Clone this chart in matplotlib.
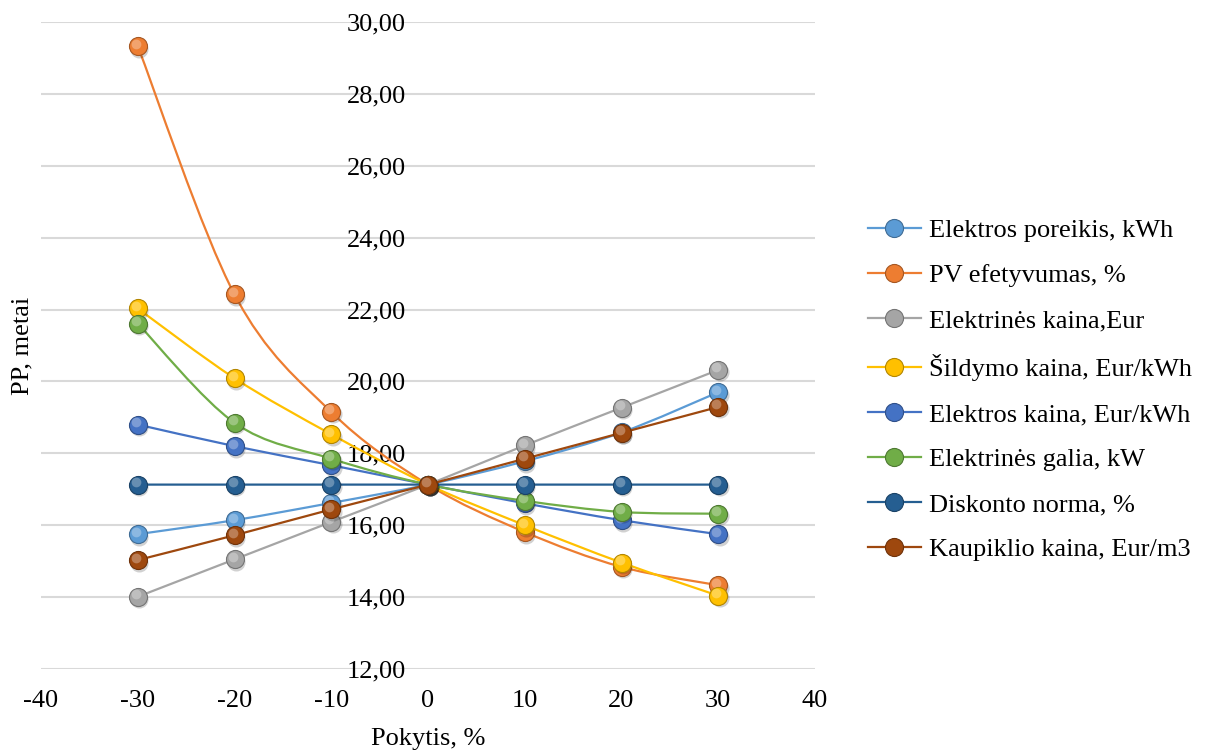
"""Jautrumo analizės diagrama (PP, metai vs pokytis, %)"""
import matplotlib
matplotlib.use('Agg')
import matplotlib.pyplot as plt
from matplotlib.path import Path
from matplotlib.patches import PathPatch
from matplotlib.lines import Line2D
from matplotlib.ticker import FuncFormatter, MultipleLocator
import matplotlib.transforms as mtransforms

plt.rcParams['font.family'] = ['Liberation Serif', 'DejaVu Serif']
plt.rcParams['font.size'] = 19
plt.rcParams['axes.unicode_minus'] = False

# duomenys
pokytis = [-30, -20, -10, 0, 10, 20, 30]
elektros_poreikis = [15.75, 16.14, 16.62, 17.13, 17.78, 18.58, 19.70]
pv_efektyvumas = [29.33, 22.42, 19.15, 17.13, 15.81, 14.84, 14.33]
elektrines_kaina = [14.01, 15.05, 16.09, 17.13, 18.22, 19.27, 20.32]
sildymo_kaina = [22.03, 20.09, 18.53, 17.13, 16.00, 14.96, 14.04]
elektros_kaina = [18.80, 18.20, 17.67, 17.13, 16.61, 16.14, 15.75]
elektrines_galia = [21.61, 18.85, 17.85, 17.13, 16.68, 16.37, 16.32]
diskonto_norma = [17.13, 17.13, 17.13, 17.13, 17.13, 17.13, 17.13]
kaupiklio_kaina = [15.03, 15.72, 16.44, 17.13, 17.85, 18.57, 19.29]

series = [
    ('Elektros poreikis, kWh', elektros_poreikis, '#5B9BD5'),
    ('PV efetyvumas, %', pv_efektyvumas, '#ED7D31'),
    ('Elektrinės kaina,Eur', elektrines_kaina, '#A5A5A5'),
    ('Šildymo kaina, Eur/kWh', sildymo_kaina, '#FFC000'),
    ('Elektros kaina, Eur/kWh', elektros_kaina, '#4472C4'),
    ('Elektrinės galia, kW', elektrines_galia, '#70AD47'),
    ('Diskonto norma, %', diskonto_norma, '#255E91'),
    ('Kaupiklio kaina, Eur/m3', kaupiklio_kaina, '#9E480E'),
]


def darker(hex_color, f=0.7):
    r, g, b = matplotlib.colors.to_rgb(hex_color)
    return (r * f, g * f, b * f)


def lighter(hex_color, f=0.5):
    r, g, b = matplotlib.colors.to_rgb(hex_color)
    return (r + (1 - r) * f, g + (1 - g) * f, b + (1 - b) * f)


def smooth_path(xs, ys):
    # Excel stiliaus glotni kreivė (Bezier valdymo taškai)
    verts = [(xs[0], ys[0])]
    codes = [Path.MOVETO]
    n = len(xs)
    for i in range(n - 1):
        x0, y0 = (xs[i - 1], ys[i - 1]) if i > 0 else (xs[i], ys[i])
        x1, y1 = xs[i], ys[i]
        x2, y2 = xs[i + 1], ys[i + 1]
        x3, y3 = (xs[i + 2], ys[i + 2]) if i + 2 < n else (x2, y2)
        c1 = (x1 + (x2 - x0) / 6, y1 + (y2 - y0) / 6)
        c2 = (x2 - (x3 - x1) / 6, y2 - (y3 - y1) / 6)
        verts += [c1, c2, (x2, y2)]
        codes += [Path.CURVE4, Path.CURVE4, Path.CURVE4]
    return Path(verts, codes)


fig = plt.figure(figsize=(12.07, 7.53), dpi=100)
ax = fig.add_axes([41 / 1207, 1 - 669 / 753, 774 / 1207, 647 / 753])

ax.set_xlim(-40, 40)
ax.set_ylim(12, 30)
ax.xaxis.set_major_locator(MultipleLocator(10))
ax.yaxis.set_major_locator(MultipleLocator(2))
ax.yaxis.set_major_formatter(FuncFormatter(lambda v, p: f'{v:.2f}'.replace('.', ',')))

ax.grid(axis='y', color='#D9D9D9', linewidth=1.5, zorder=0)
for s in ['top', 'right', 'bottom']:
    ax.spines[s].set_visible(False)
ax.spines['left'].set_position(('data', 0))
ax.spines['left'].set_color('none')
ax.tick_params(axis='y', length=0, pad=16)
ax.tick_params(axis='x', length=0, pad=15)

ax.set_xlabel('Pokytis, %', labelpad=12)
ax.set_ylabel('PP, metai', va='center')
ax.yaxis.set_label_coords(-0.0245, 0.5)

shadow_tr = mtransforms.offset_copy(ax.transData, fig=fig, x=1.5, y=-2.5, units='dots')
hl_tr = mtransforms.offset_copy(ax.transData, fig=fig, x=-2, y=2.5, units='dots')

handles = []
for k, (name, vals, col) in enumerate(series):
    z = 3 + k
    patch = PathPatch(smooth_path(pokytis, vals), facecolor='none', edgecolor=col,
                      linewidth=1.6, zorder=z)
    ax.add_patch(patch)
    ax.plot(pokytis, vals, linestyle='none', marker='o', markersize=13,
            color='black', alpha=0.18, markeredgewidth=0, transform=shadow_tr, zorder=z)
    ax.plot(pokytis, vals, linestyle='none', marker='o', markersize=13,
            markerfacecolor=col, markeredgecolor=darker(col), markeredgewidth=0.8, zorder=z)
    ax.plot(pokytis, vals, linestyle='none', marker='o', markersize=7,
            markerfacecolor=lighter(col), markeredgewidth=0, alpha=0.6,
            transform=hl_tr, zorder=z)
    handles.append(Line2D([0], [0], color=col, linewidth=1.6, marker='o', markersize=13,
                          markerfacecolor=col, markeredgecolor=darker(col),
                          markeredgewidth=0.8, label=name))

fig.legend(handles=handles, loc='center left', bbox_to_anchor=(868 / 1207, 1 - 390 / 753),
           frameon=False, handlelength=2.0, handletextpad=0.3, labelspacing=0.82,
           borderpad=0, borderaxespad=0, fontsize=19)

fig.savefig('out.png', dpi=100)
